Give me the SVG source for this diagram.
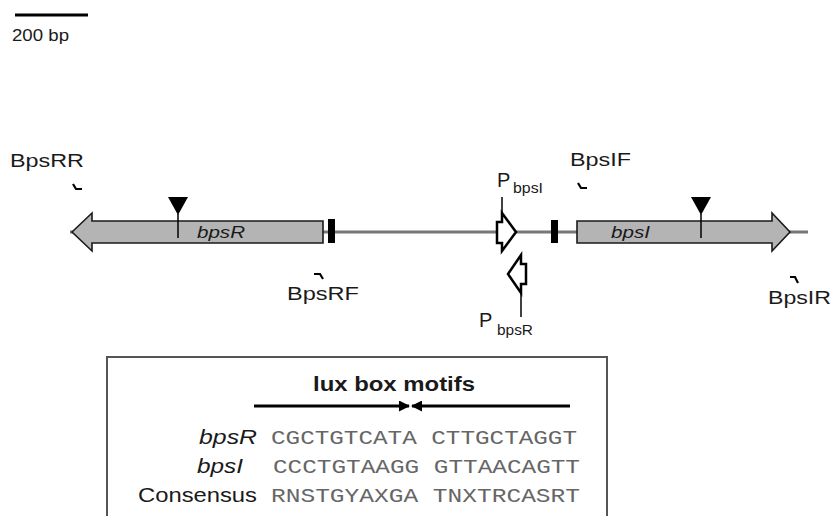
<svg xmlns="http://www.w3.org/2000/svg" width="834" height="516" viewBox="0 0 834 516">
<style>
.lab{font-family:"Liberation Sans",Arial,sans-serif;fill:#1a1a1a}
.gene{fill:#b4b4b4;stroke:#1a1a1a;stroke-width:1.6}
.prom{fill:#fff;stroke:#000;stroke-width:2.5;stroke-linejoin:miter}
.primer{fill:none;stroke:#000;stroke-width:2.2}
.seq{font-family:"Liberation Mono","Courier New",monospace;fill:#666}
.it{font-style:italic}
</style>
<defs>
<marker id="ah" markerWidth="11" markerHeight="11" refX="10" refY="5.5" orient="auto" markerUnits="userSpaceOnUse">
<path d="M0,0 L11,5.5 L0,11 Z" fill="#000"/>
</marker>
</defs>
<rect width="834" height="516" fill="#fff"/>
<g id="scalebar">
<line x1="15" y1="15" x2="88" y2="15" stroke="#000" stroke-width="3"/>
<text class="lab" x="12" y="41" font-size="17" textLength="57" lengthAdjust="spacingAndGlyphs">200 bp</text>
</g>
<g id="connectors">
<line id="backbone" x1="70" y1="232" x2="808" y2="232" stroke="#777" stroke-width="3"/>
<line x1="502" y1="197" x2="502" y2="213" stroke="#000" stroke-width="1.5"/>
<line x1="521" y1="293" x2="521" y2="317" stroke="#000" stroke-width="1.5"/>
<line x1="254" y1="406" x2="409" y2="406" stroke="#000" stroke-width="3" marker-end="url(#ah)"/>
<line x1="570" y1="406" x2="412" y2="406" stroke="#000" stroke-width="3" marker-end="url(#ah)"/>
</g>
<g id="bpsR">
<polygon class="gene" points="72,232 92,213 92,221 323,221 323,243 92,243 92,251"/>
<path d="M168,197 L188,197 L178,215 Z" fill="#000"/>
<line x1="178" y1="214" x2="178" y2="238" stroke="#000" stroke-width="1.5"/>
<text class="lab it" x="197" y="238" font-size="16" textLength="48" lengthAdjust="spacingAndGlyphs">bpsR</text>
</g>
<g id="luxR-box"><rect x="328" y="219" width="7" height="24" fill="#000"/></g>
<g id="luxI-box"><rect x="551" y="220" width="7" height="23" fill="#000"/></g>
<g id="bpsI">
<polygon class="gene" points="577,221 772,221 772,213 790,232 772,251 772,243 577,243"/>
<path d="M691,197 L711,197 L701,215 Z" fill="#000"/>
<line x1="701" y1="214" x2="701" y2="238" stroke="#000" stroke-width="1.5"/>
<text class="lab it" x="611" y="238" font-size="16" textLength="39" lengthAdjust="spacingAndGlyphs">bpsI</text>
</g>
<g id="PbpsI">
<polygon class="prom" points="502,213 516,232 502,251 502,243 497,243 497,222 502,222"/>
<text class="lab" x="497" y="187" font-size="20">P</text>
<text class="lab" x="513" y="193" font-size="15" textLength="30" lengthAdjust="spacingAndGlyphs">bpsI</text>
</g>
<g id="PbpsR">
<polygon class="prom" points="508,274 521,255 521,264 526,264 526,284 521,284 521,293"/>
<text class="lab" x="479" y="327" font-size="20">P</text>
<text class="lab" x="497" y="335" font-size="15" textLength="36" lengthAdjust="spacingAndGlyphs">bpsR</text>
</g>
<g id="BpsRR">
<path class="primer" d="M73,184 L76,189 L82,189"/>
<text class="lab" x="10" y="167" font-size="19" textLength="74" lengthAdjust="spacingAndGlyphs">BpsRR</text>
</g>
<g id="BpsIF">
<path class="primer" d="M578,183 L581,188 L587,188"/>
<text class="lab" x="570" y="166" font-size="19" textLength="61" lengthAdjust="spacingAndGlyphs">BpsIF</text>
</g>
<g id="BpsRF">
<path class="primer" d="M314,274 L320,274 L323,279"/>
<text class="lab" x="287" y="300" font-size="19" textLength="72" lengthAdjust="spacingAndGlyphs">BpsRF</text>
</g>
<g id="BpsIR">
<path class="primer" d="M790,277 L795,277 L798,283"/>
<text class="lab" x="768" y="304" font-size="19" textLength="63" lengthAdjust="spacingAndGlyphs">BpsIR</text>
</g>
<g id="luxbox">
<rect x="107" y="357" width="500" height="180" fill="none" stroke="#555" stroke-width="2"/>
<text class="lab" x="313" y="391" font-size="20" font-weight="bold" textLength="162" lengthAdjust="spacingAndGlyphs">lux box motifs</text>
<text class="lab it" x="257" y="444" font-size="20" text-anchor="end" textLength="58" lengthAdjust="spacingAndGlyphs">bpsR</text>
<text class="lab it" x="243" y="473" font-size="20" text-anchor="end" textLength="46" lengthAdjust="spacingAndGlyphs">bpsI</text>
<text class="lab" x="257" y="502" font-size="20" text-anchor="end" textLength="119" lengthAdjust="spacingAndGlyphs">Consensus</text>
<text class="seq" x="271" y="444" font-size="20" textLength="306" lengthAdjust="spacingAndGlyphs">CGCTGTCATA CTTGCTAGGT</text>
<text class="seq" x="273" y="473" font-size="20" textLength="307" lengthAdjust="spacingAndGlyphs">CCCTGTAAGG GTTAACAGTT</text>
<text class="seq" x="271" y="502" font-size="20" textLength="309" lengthAdjust="spacingAndGlyphs">RNSTGYAXGA TNXTRCASRT</text>
</g>
</svg>
